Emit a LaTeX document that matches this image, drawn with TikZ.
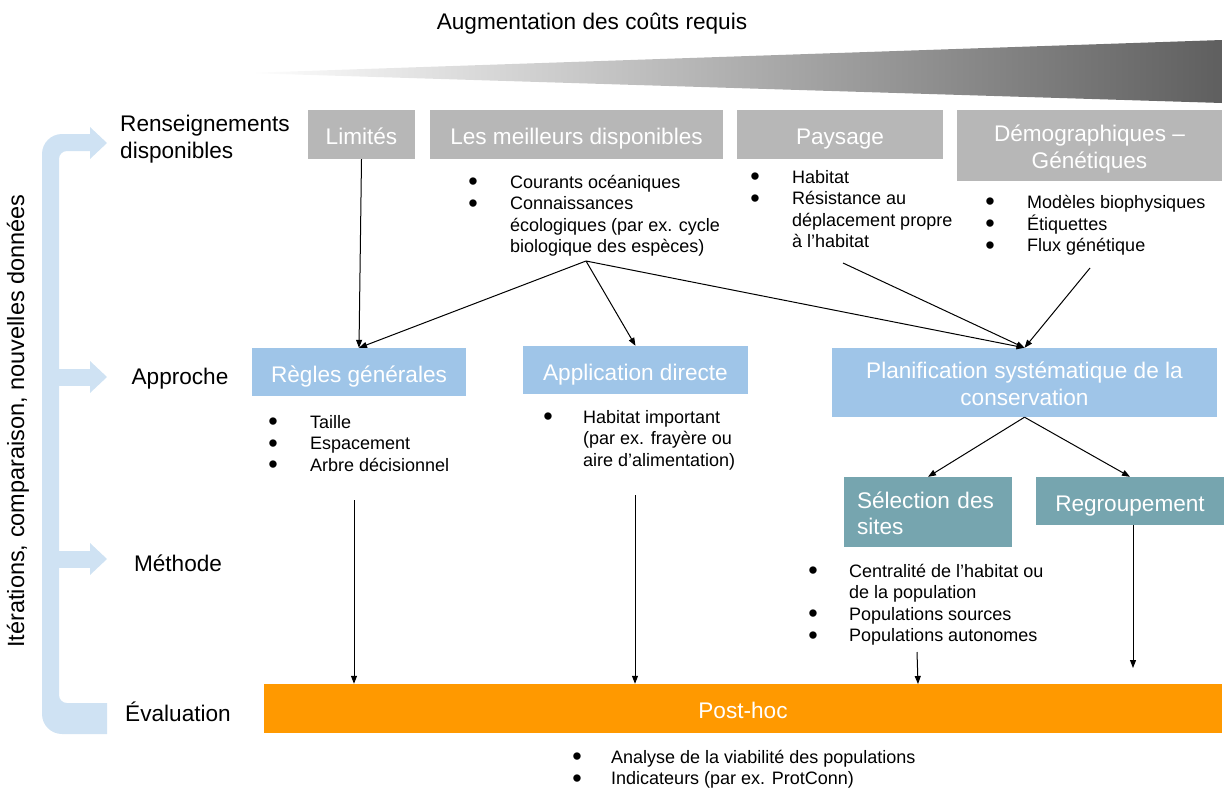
\documentclass[tikz,border=0pt]{standalone}
\usepackage{fontspec}
\setmainfont{Liberation Sans}
\usetikzlibrary{arrows.meta}
\definecolor{boxgray}{HTML}{B7B7B7}
\definecolor{boxblue}{HTML}{9FC5E8}
\definecolor{boxteal}{HTML}{76A5AF}
\definecolor{boxorange}{HTML}{FF9900}
\definecolor{brkblue}{HTML}{CFE2F3}
\definecolor{shadedark}{HTML}{5F5F5F}
\newcommand{\bfs}{\fontsize{18}{21.5}\selectfont}
\newcommand{\lfs}{\fontsize{22.6}{26.5}\selectfont}
\newcommand{\bul}{\hspace{-1.6pt}\smash{\raisebox{-2.6pt}{\fontsize{27}{0}\selectfont •}}}
\newcommand{\blist}[2]{{\bfs\begin{tabular}[t]{@{}p{#1pt}@{}l@{}}#2\end{tabular}}}
\newcommand{\twoline}[3]{\begin{tabular}{@{}#1@{}}\rule{0pt}{27pt}#2\\#3\end{tabular}}
\begin{document}
\begin{tikzpicture}[x=1pt,y=-1pt,
  box/.style={inner sep=0pt, text=white, font=\lfs, align=center},
  one/.style={text height=20pt, text depth=0pt},
  conn/.style={line width=1pt, -{Triangle[length=8pt,width=6pt]}},
  lbl/.style={inner sep=0pt, font=\lfs, align=left},
  blt/.style={inner sep=0pt, anchor=base west}]
\useasboundingbox (0,0) rectangle (1225,787);
% title and cost wedge
\node[lbl] (title) at (592,24) {Augmentation des coûts requis};
\shade[left color=white, right color=shadedark] (246,73) -- (1222,40) -- (1222,103) -- cycle;
% iteration bracket
\fill[brkblue] (90,134) [rounded corners=20pt] -- (42,134) -- (42,734) [rounded corners=0pt] -- (107,734) -- (107,703) [rounded corners=8pt] -- (59,703) -- (59,151) [rounded corners=0pt] -- (90,151) -- cycle;
\fill[brkblue] (90,127) -- (107,143) -- (90,159) -- cycle;
\fill[brkblue] (58,368.5) rectangle (91,385.5);
\fill[brkblue] (90,361) -- (107,377) -- (90,393) -- cycle;
\fill[brkblue] (58,550.5) rectangle (91,567.5);
\fill[brkblue] (90,543) -- (107,559) -- (90,575) -- cycle;
\node[lbl, rotate=90, font=\fontsize{23.5}{28}\selectfont] (iter) at (18,421) {Itérations, comparaison, nouvelles données};
% row labels
\node[lbl, anchor=west] (rens) at (120,139) {Renseignements\\disponibles};
\node[lbl, one] (appr) at (180,374) {Approche};
\node[lbl, one] (meth) at (178,561) {Méthode};
\node[lbl, one] (eval) at (178,711) {Évaluation};
% information boxes
\node[box, one, fill=boxgray, minimum width=107pt, minimum height=49pt] (lim) at (361.5,134.5) {Limités};
\node[box, one, fill=boxgray, minimum width=293pt, minimum height=49pt] (best) at (576.5,134.5) {Les meilleurs disponibles};
\node[box, one, fill=boxgray, minimum width=206pt, minimum height=49pt] (pay) at (840,134.5) {Paysage};
\node[box, fill=boxgray, minimum width=265pt, minimum height=71pt] (demo) at (1089.5,145.5) {\twoline{c}{Démographiques –}{Génétiques}};
% approach boxes
\node[box, one, fill=boxblue, minimum width=214pt, minimum height=48pt] (regles) at (359,372) {Règles générales};
\node[box, one, fill=boxblue, minimum width=225pt, minimum height=48pt] (appl) at (635.5,370) {Application directe};
\node[box, fill=boxblue, minimum width=385pt, minimum height=69pt] (plan) at (1024.5,382.5) {\twoline{c}{Planification systématique de la}{conservation}};
% method boxes
\node[box, fill=boxteal, minimum width=168pt, minimum height=70pt, text width=142pt, align=left] (sel) at (928,512) {\twoline{l}{Sélection des}{sites}};
\node[box, one, fill=boxteal, minimum width=188pt, minimum height=48pt] (regr) at (1130,501) {Regroupement};
% evaluation bar
\node[box, one, fill=boxorange, minimum width=958pt, minimum height=49pt] (post) at (743,708.5) {Post-hoc};
% bullet lists
\node[blt] (lbest) at (469.8,188) {\blist{40.2}{\bul & Courants océaniques\\ \bul & Connaissances\\ & écologiques (par ex. cycle\\ & biologique des espèces)}};
\node[blt] (lpay) at (751.8,183) {\blist{40.2}{\bul & Habitat\\ \bul & Résistance au\\ & déplacement propre\\ & à l’habitat}};
\node[blt] (ldemo) at (986.8,208) {\blist{40.2}{\bul & Modèles biophysiques\\ \bul & Étiquettes\\ \bul & Flux génétique}};
\node[blt] (lregles) at (269.8,428) {\blist{40.2}{\bul & Taille\\ \bul & Espacement\\ \bul & Arbre décisionnel}};
\node[blt] (lappl) at (544.8,423) {\blist{38.2}{\bul & Habitat important\\ & (par ex. frayère ou\\ & aire d’alimentation)}};
\node[blt] (lsel) at (809.8,577) {\blist{39.2}{\bul & Centralité de l’habitat ou\\ & de la population\\ \bul & Populations sources\\ \bul & Populations autonomes}};
\node[blt] (lpost) at (573.8,763) {\blist{37.2}{\bul & Analyse de la viabilité des populations\\ \bul & Indicateurs (par ex. ProtConn)}};
% connector end points
\coordinate (srcbest) at (586,261);
\coordinate (srcpay) at (843,263);
\coordinate (srcdemo) at (1090,268);
\coordinate (srcregles) at (354,500);
\coordinate (srcappl) at (635,495);
\coordinate (srcsel) at (917,652);
\coordinate (endregr) at (1133,668);
% connectors
\draw[conn] (lim.south) -- (regles.north);
\draw[conn] (srcbest) -- (regles.north);
\draw[conn] (srcbest) -- (appl.north);
\draw[conn] (srcbest) -- (plan.north);
\draw[conn] (srcpay) -- (plan.north);
\draw[conn] (srcdemo) -- (plan.north);
\draw[conn] (plan.south) -- (sel.north);
\draw[conn] (plan.south) -- (regr.north);
\draw[conn] (srcregles) -- (srcregles |- post.north);
\draw[conn] (srcappl) -- (srcappl |- post.north);
\draw[conn] (srcsel) -- (918,684);
\draw[conn] (regr.south -| endregr) -- (endregr);
\end{tikzpicture}
\end{document}
